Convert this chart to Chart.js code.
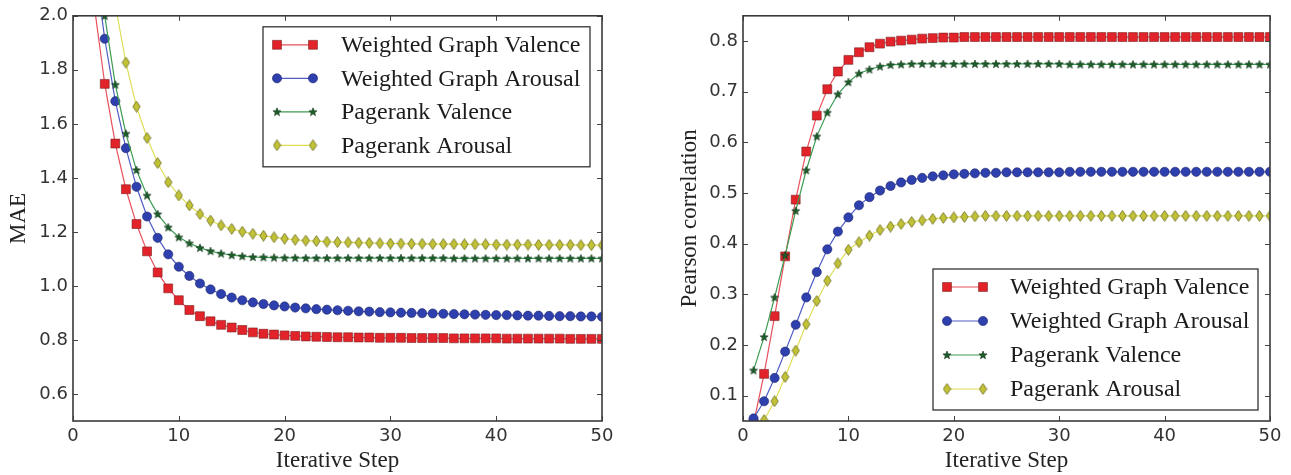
<!DOCTYPE html>
<html>
<head>
<meta charset="utf-8">
<script src="https://cdn.jsdelivr.net/npm/chart.js@4.4.1/dist/chart.umd.min.js"></script>
<style>
  body { margin: 0; background: #fff; }
  #wrap { position: relative; width: 1291px; height: 475px; }
  .box { position: absolute; top: 0; height: 475px; }
</style>
</head>
<body>
<div id="wrap">
  <div class="box" style="left:0;width:645px"><canvas id="maeChart" width="645" height="475"></canvas></div>
  <div class="box" style="left:645px;width:646px"><canvas id="pcChart" width="646" height="475"></canvas></div>
</div>
<script>
"use strict";

var steps = [1,2,3,4,5,6,7,8,9,10,11,12,13,14,15,16,17,18,19,20,21,22,23,24,25,
  26,27,28,29,30,31,32,33,34,35,36,37,38,39,40,41,42,43,44,45,46,47,48,49,50];

var seriesNames = ['Weighted Graph Valence', 'Weighted Graph Arousal', 'Pagerank Valence', 'Pagerank Arousal'];

// left panel: MAE
var wgValenceMAE = [2.41,2.04,1.748,1.527,1.358,1.229,1.128,1.050,0.991,0.947,0.911,0.888,0.869,0.856,0.846,
  0.837,0.828,0.823,0.820,0.817,0.815,0.813,0.812,0.811,0.810,0.810,0.809,0.809,0.808,0.808,
  0.808,0.807,0.807,0.807,0.807,0.806,0.806,0.806,0.806,0.806,0.805,0.805,0.805,0.805,0.805,
  0.805,0.804,0.804,0.804,0.804];
var wgArousalMAE = [2.60,2.21,1.915,1.684,1.510,1.367,1.257,1.178,1.117,1.071,1.037,1.009,0.987,0.970,0.957,
  0.947,0.939,0.933,0.928,0.924,0.920,0.917,0.914,0.912,0.910,0.908,0.906,0.905,0.903,0.902,
  0.901,0.900,0.899,0.898,0.897,0.896,0.895,0.894,0.893,0.892,0.892,0.891,0.890,0.890,0.889,
  0.888,0.888,0.887,0.887,0.886];
var prValenceMAE = [2.84,2.35,2.00,1.745,1.564,1.429,1.335,1.266,1.217,1.180,1.158,1.141,1.129,1.120,1.114,
  1.110,1.107,1.106,1.105,1.104,1.104,1.103,1.103,1.103,1.103,1.103,1.103,1.103,1.103,1.103,
  1.103,1.103,1.103,1.103,1.103,1.102,1.102,1.102,1.102,1.102,1.102,1.102,1.102,1.102,1.102,
  1.102,1.102,1.102,1.102,1.102];
var prArousalMAE = [3.15,2.69,2.32,2.04,1.827,1.664,1.548,1.455,1.384,1.335,1.298,1.266,1.242,1.224,1.211,
  1.201,1.193,1.186,1.180,1.175,1.171,1.168,1.166,1.164,1.162,1.161,1.160,1.159,1.158,1.157,
  1.157,1.156,1.156,1.155,1.155,1.155,1.154,1.154,1.154,1.153,1.153,1.153,1.153,1.152,1.152,
  1.152,1.152,1.151,1.151,1.151];

// right panel: Pearson correlation
var wgValencePC = [0.045,0.143,0.257,0.375,0.487,0.582,0.653,0.705,0.740,0.763,0.778,0.788,0.795,0.799,0.801,
  0.803,0.805,0.806,0.807,0.807,0.808,0.808,0.808,0.808,0.808,0.808,0.808,0.808,0.808,0.808,
  0.808,0.808,0.808,0.808,0.808,0.808,0.808,0.808,0.808,0.808,0.808,0.808,0.808,0.808,0.808,
  0.808,0.808,0.808,0.808,0.808];
var wgArousalPC = [0.055,0.089,0.135,0.187,0.240,0.294,0.344,0.389,0.424,0.452,0.476,0.492,0.505,0.514,0.521,
  0.526,0.530,0.533,0.535,0.537,0.538,0.539,0.540,0.540,0.541,0.541,0.541,0.541,0.541,0.541,
  0.542,0.542,0.542,0.542,0.542,0.542,0.542,0.542,0.542,0.542,0.542,0.542,0.542,0.542,0.542,
  0.542,0.542,0.542,0.542,0.542];
var prValencePC = [0.150,0.216,0.294,0.377,0.465,0.545,0.612,0.659,0.695,0.719,0.736,0.744,0.750,0.753,0.754,
  0.755,0.755,0.755,0.755,0.755,0.755,0.755,0.755,0.755,0.755,0.755,0.755,0.755,0.755,0.755,
  0.754,0.754,0.754,0.754,0.754,0.754,0.754,0.754,0.754,0.754,0.754,0.754,0.754,0.754,0.754,
  0.754,0.754,0.754,0.754,0.754];
var prArousalPC = [0.020,0.052,0.089,0.137,0.189,0.241,0.287,0.327,0.361,0.388,0.403,0.416,0.427,0.434,0.439,
  0.443,0.446,0.449,0.451,0.452,0.453,0.454,0.455,0.455,0.455,0.455,0.455,0.455,0.455,0.455,
  0.455,0.455,0.455,0.455,0.455,0.455,0.455,0.455,0.455,0.455,0.455,0.455,0.455,0.455,0.455,
  0.455,0.455,0.455,0.455,0.455];

var xTicks = [0, 10, 20, 30, 40, 50];
var maeTicks = [0.6, 0.8, 1.0, 1.2, 1.4, 1.6, 1.8, 2.0];
var pcTicks = [0.1, 0.2, 0.3, 0.4, 0.5, 0.6, 0.7, 0.8];

// small marker images for the star and thin diamond
function starMarker(fill, edge) {
  var c = document.createElement('canvas');
  c.width = 10; c.height = 10;
  var g = c.getContext('2d');
  g.beginPath();
  for (var i = 0; i < 10; i++) {
    var r = i % 2 === 0 ? 4.3 : 1.8;
    var a = -Math.PI / 2 + i * Math.PI / 5;
    g.lineTo(5 + r * Math.cos(a), 5.3 + r * Math.sin(a));
  }
  g.closePath();
  g.fillStyle = fill; g.fill();
  g.strokeStyle = edge; g.lineWidth = 0.6; g.stroke();
  return c;
}
function diamondMarker(fill, edge) {
  var c = document.createElement('canvas');
  c.width = 9; c.height = 12;
  var g = c.getContext('2d');
  g.beginPath();
  g.moveTo(4.5, 0.6); g.lineTo(8.2, 6); g.lineTo(4.5, 11.4); g.lineTo(0.8, 6);
  g.closePath();
  g.fillStyle = fill; g.fill();
  g.strokeStyle = edge; g.lineWidth = 0.8; g.stroke();
  return c;
}

var styles = [
  { line: '#e8505c', fill: '#e3232a', edge: '#7a2020', shape: 'rect', r: 6.3 },
  { line: '#4f5cc4', fill: '#2e3fae', edge: '#22286a', shape: 'circle', r: 4.6 },
  { line: '#3c9c52', fill: '#1c5e2a', edge: '#0f3015', shape: starMarker('#1c5e2a', '#0f3015'), r: 4 },
  { line: '#dede55', fill: '#c2c236', edge: '#6a6a20', shape: diamondMarker('#c2c236', '#6a6a20'), r: 5 }
];

function makeSets(seriesList) {
  return seriesList.map(function (vals, i) {
    var s = styles[i];
    return {
      label: seriesNames[i],
      data: steps.map(function (st, k) { return { x: st, y: vals[k] }; }),
      borderColor: s.line,
      borderWidth: 1.2,
      pointStyle: s.shape,
      pointRadius: s.r,
      pointHoverRadius: s.r,
      pointBackgroundColor: s.fill,
      pointBorderColor: s.edge,
      pointBorderWidth: 0.6,
      tension: 0,
      order: 4 - i
    };
  });
}

// frame with inward ticks on all four sides
var frameTicks = {
  id: 'frameTicks',
  afterDatasetsDraw: function (chart) {
    var ctx = chart.ctx, a = chart.chartArea, x = chart.scales.x, y = chart.scales.y;
    ctx.save();
    ctx.strokeStyle = '#444';
    ctx.lineWidth = 1;
    ctx.beginPath();
    x.ticks.forEach(function (t) {
      var px = Math.round(x.getPixelForValue(t.value)) + 0.5;
      ctx.moveTo(px, a.bottom); ctx.lineTo(px, a.bottom - 5);
      ctx.moveTo(px, a.top); ctx.lineTo(px, a.top + 5);
    });
    y.ticks.forEach(function (t) {
      var py = Math.round(y.getPixelForValue(t.value)) + 0.5;
      ctx.moveTo(a.left, py); ctx.lineTo(a.left + 5, py);
      ctx.moveTo(a.right, py); ctx.lineTo(a.right - 5, py);
    });
    ctx.stroke();
    ctx.lineWidth = 1.6;
    ctx.strokeStyle = '#3a3a3a';
    ctx.strokeRect(a.left, a.top, a.right - a.left, a.bottom - a.top);
    ctx.restore();
  }
};

// matplotlib-like legend box inside the plot
var boxLegend = {
  id: 'boxLegend',
  afterDraw: function (chart, args, o) {
    var ctx = chart.ctx, a = chart.chartArea;
    var left = a.right - o.right - o.width;
    var top = o.anchor === 'top' ? a.top + o.offset : a.bottom - o.offset - o.height;
    ctx.save();
    ctx.fillStyle = '#fff';
    ctx.fillRect(left, top, o.width, o.height);
    ctx.strokeStyle = '#333';
    ctx.lineWidth = 1.3;
    ctx.strokeRect(left, top, o.width, o.height);
    ctx.font = '24px "Liberation Serif", "Times New Roman", serif';
    ctx.textBaseline = 'middle';
    chart.data.datasets.forEach(function (ds, i) {
      var cy = top + o.firstRow + i * o.rowGap;
      var x0 = left + o.lineStart, x1 = x0 + o.lineLen;
      ctx.strokeStyle = ds.borderColor;
      ctx.lineWidth = ds.borderWidth;
      ctx.beginPath(); ctx.moveTo(x0, cy); ctx.lineTo(x1, cy); ctx.stroke();
      [x0, x1].forEach(function (px) {
        ctx.fillStyle = ds.pointBackgroundColor;
        ctx.strokeStyle = ds.pointBorderColor;
        ctx.lineWidth = ds.pointBorderWidth;
        Chart.helpers.drawPoint(ctx, { pointStyle: ds.pointStyle, radius: ds.pointRadius, rotation: 0, borderWidth: ds.pointBorderWidth }, px, cy);
      });
      ctx.fillStyle = '#1c1c1c';
      ctx.fillText(ds.label, left + o.textStart, cy + 1);
    });
    ctx.restore();
  }
};

var tickFont = { family: 'DejaVu Sans', size: 18 };
var titleFont = { family: 'Liberation Serif', size: 23 };

function makeChart(el, sets, yMin, yMax, yTicks, yTitle, yTitlePad, pad, legendOpts) {
  return new Chart(el, {
    type: 'line',
    data: { datasets: sets },
    options: {
      responsive: false,
      animation: false,
      devicePixelRatio: 1,
      layout: { padding: pad, autoPadding: false },
      plugins: {
        legend: { display: false },
        tooltip: { enabled: false },
        boxLegend: legendOpts
      },
      scales: {
        x: {
          type: 'linear',
          min: 0, max: 50,
          afterBuildTicks: function (s) { s.ticks = xTicks.map(function (v) { return { value: v }; }); },
          afterFit: function (s) { s.height = 54; },
          grid: { display: false, drawTicks: false },
          border: { display: false },
          ticks: { color: '#333', font: tickFont, padding: 5, maxRotation: 0 },
          title: { display: true, text: 'Iterative Step', color: '#222', font: titleFont, padding: { top: 0, bottom: 0 } }
        },
        y: {
          min: yMin, max: yMax,
          afterBuildTicks: function (s) { s.ticks = yTicks.map(function (v) { return { value: v }; }); },
          afterFit: function (s) { s.width = pad.yWidth; },
          grid: { display: false, drawTicks: false },
          border: { display: false },
          ticks: { color: '#333', font: tickFont, padding: 5, callback: function (v) { return v.toFixed(1); } },
          title: { display: true, text: yTitle, color: '#222', font: titleFont, padding: { top: yTitlePad, bottom: 0 } }
        }
      }
    },
    plugins: [frameTicks, boxLegend]
  });
}

makeChart(document.getElementById('maeChart'),
  makeSets([wgValenceMAE, wgArousalMAE, prValenceMAE, prArousalMAE]),
  0.5, 2.0, maeTicks, 'MAE', 5,
  { top: 13, right: 43, bottom: 0, left: 0, yWidth: 73 },
  { anchor: 'top', right: 12, offset: 11, width: 327, height: 140, firstRow: 18, rowGap: 33.5, lineStart: 14, lineLen: 36, textStart: 78 });

makeChart(document.getElementById('pcChart'),
  makeSets([wgValencePC, wgArousalPC, prValencePC, prArousalPC]),
  0.05, 0.85, pcTicks, 'Pearson correlation', 31,
  { top: 15, right: 21, bottom: 0, left: 0, yWidth: 98 },
  { anchor: 'bottom', right: 12, offset: 11, width: 325, height: 141, firstRow: 18, rowGap: 34, lineStart: 14, lineLen: 36, textStart: 77 });
</script>
</body>
</html>
